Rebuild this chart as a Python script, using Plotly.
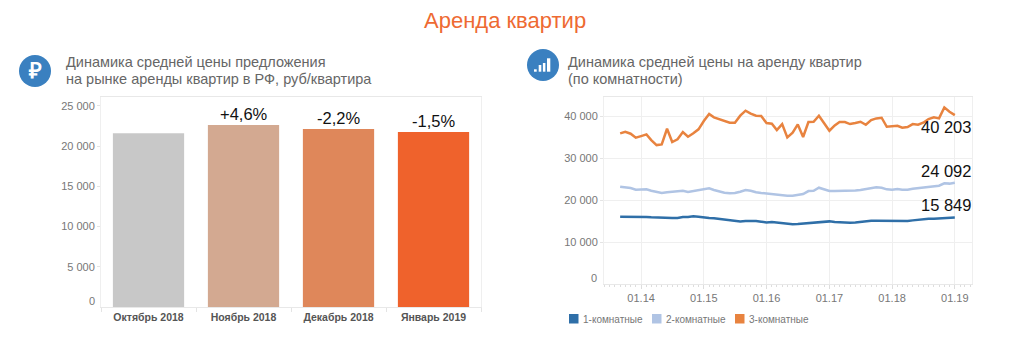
import pandas as pd
import plotly.graph_objects as go

months = ["Октябрь 2018", "Ноябрь 2018", "Декабрь 2018", "Январь 2019"]
avg_price = [21580, 22600, 22100, 21750]
bar_colors = ["#c8c8c8", "#d3a991", "#df875a", "#ef622c"]
change_labels = ["", "+4,6%", "-2,2%", "-1,5%"]

dates = pd.date_range("2013-09-01", "2019-01-01", freq="MS")
room1 = [16030, 16030, 16110, 15950, 15950, 15950, 15870, 15790, 15710, 15710,
         15710, 15710, 15950, 15950, 16110, 16030, 15790, 15710, 15630, 15470,
         15230, 15070, 14990, 14910, 14990, 15070, 14990, 14830, 14670, 14750,
         14590, 14430, 14260, 14200, 14260, 14340, 14500, 14590, 14750, 14830,
         14910, 14750, 14670, 14590, 14590, 14670, 14830, 14990, 15070, 15070,
         15070, 15070, 14990, 14910, 14990, 14990, 15150, 15310, 15390, 15550,
         15550, 15630, 15790, 15790, 15849]
room2 = [23170, 23020, 22850, 22450, 22450, 22540, 22210, 21900, 21660, 21830,
         21900, 22070, 22210, 21900, 22130, 22370, 22690, 22770, 22370, 21980,
         21740, 21580, 21660, 21980, 22370, 22210, 21830, 21660, 21500, 21420,
         21260, 21180, 21010, 21010, 21260, 21420, 22130, 22210, 22930, 22530,
         22130, 22130, 22130, 22210, 22210, 22290, 22370, 22610, 22930, 23020,
         22930, 22530, 22450, 22610, 22450, 22450, 22690, 22850, 22930, 23250,
         23410, 23410, 23970, 23900, 24092]
room3 = [35870, 36250, 35780, 34830, 35220, 35620, 34270, 33080, 33240, 36960,
         33800, 34440, 36180, 35060, 35870, 36820, 38790, 40460, 39670, 39270,
         38790, 38390, 38390, 40070, 41260, 40560, 40070, 39980, 38320, 38160,
         36650, 38080, 34910, 36010, 38000, 34990, 38560, 38630, 40070, 38240,
         36490, 37770, 38560, 38560, 38080, 38320, 38630, 37910, 39030, 39430,
         39590, 37440, 37520, 37680, 37200, 37370, 38080, 37910, 38390, 39270,
         39670, 39430, 42050, 41020, 40203]
series_names = ["1-комнатные", "2-комнатные", "3-комнатные"]
series_colors = ["#2f6fa8", "#b0c4e4", "#e8833f"]
left_ticks = [5000, 10000, 15000, 20000, 25000]
left_ticktext = ["5 000", "10 000", "15 000", "20 000", "25 000"]
right_ticks = [10000, 20000, 30000, 40000]
right_ticktext = ["10 000", "20 000", "30 000", "40 000"]
year_ticks = ["2014-01-01", "2015-01-01", "2016-01-01", "2017-01-01", "2018-01-01", "2019-01-01"]
year_labels = ["01.14", "01.15", "01.16", "01.17", "01.18", "01.19"]

FONT = "Liberation Sans, Arial, sans-serif"
W, H = 1024, 364
FRAME = "#efefef"


def px(x):
    return x / W


def py(y):
    return 1 - y / H


fig = go.Figure()
fig.add_trace(go.Bar(
    x=months, y=avg_price, width=0.75, marker=dict(color=bar_colors, line_width=0),
    xaxis="x", yaxis="y", showlegend=False, hoverinfo="x+y"))
for name, color, values in zip(series_names, series_colors, [room1, room2, room3]):
    fig.add_trace(go.Scatter(
        x=dates, y=values, mode="lines", name=name,
        line=dict(color=color, width=2.5), xaxis="x2", yaxis="y2", showlegend=False))

notes = [
    dict(text="Аренда квартир", x=px(505), y=py(20), size=22, color="#ee6a32", xa="center"),
    dict(text="Динамика средней цены предложения", x=px(64), y=py(62), size=14.5, color="#666666", xa="left"),
    dict(text="на рынке аренды квартир в РФ, руб/квартира", x=px(64), y=py(79), size=14.5, color="#666666", xa="left"),
    dict(text="Динамика средней цены на аренду квартир", x=px(566), y=py(62), size=14.5, color="#666666", xa="left"),
    dict(text="(по комнатности)", x=px(566), y=py(79), size=14.5, color="#666666", xa="left"),
    dict(text="0", x=px(97), y=py(301), size=11, color="#777777", xa="right"),
    dict(text="0", x=px(599), y=py(278), size=11, color="#777777", xa="right"),
    dict(text="40 203", x=px(973), y=py(127), size=16.5, color="#111111", xa="right"),
    dict(text="24 092", x=px(973), y=py(171), size=16.5, color="#111111", xa="right"),
    dict(text="15 849", x=px(973), y=py(205), size=16.5, color="#111111", xa="right"),
    dict(text="<b>₽</b>", x=px(35), y=py(71), size=22, color="#ffffff", xa="center"),
]
annotations = [dict(text=n["text"], x=n["x"], y=n["y"], xref="paper", yref="paper",
                    xanchor=n["xa"], yanchor="middle", showarrow=False,
                    font=dict(family=FONT, size=n["size"], color=n["color"])) for n in notes]

for month, value, label in zip(months, avg_price, change_labels):
    if label:
        annotations.append(dict(text=label, x=month, y=value, xref="x", yref="y",
                                xanchor="center", yanchor="bottom", showarrow=False,
                                font=dict(family=FONT, size=16.5, color="#111111")))

shapes = [
    dict(type="circle", xref="paper", yref="paper", x0=px(19), x1=px(51), y0=py(87), y1=py(55),
         fillcolor="#3a80c0", line_width=0),
    dict(type="circle", xref="paper", yref="paper", x0=px(527), x1=px(559), y0=py(81), y1=py(49),
         fillcolor="#3a80c0", line_width=0),
]
for x0, x1, top in [(534, 536.7, 69.3), (538.7, 541.3, 65), (542.9, 545.4, 63), (547, 550.3, 58.3)]:
    shapes.append(dict(type="rect", xref="paper", yref="paper", x0=px(x0), x1=px(x1),
                       y0=py(71.7), y1=py(top), fillcolor="#ffffff", line_width=0))

for left, name, color in zip([569, 652, 735], series_names, series_colors):
    shapes.append(dict(type="rect", xref="paper", yref="paper", x0=px(left), x1=px(left + 9.5),
                       y0=py(323.5), y1=py(314), fillcolor=color, line_width=0))
    annotations.append(dict(text=name, x=px(left + 12), y=py(319), xref="paper", yref="paper",
                            xanchor="left", yanchor="middle", showarrow=False,
                            font=dict(family=FONT, size=10, color="#777777")))

fig.update_layout(
    width=W, height=H, autosize=False, margin=dict(l=0, r=0, t=0, b=0),
    paper_bgcolor="#ffffff", plot_bgcolor="#ffffff", font=dict(family=FONT),
    annotations=annotations, shapes=shapes, bargap=0.25,
    xaxis=dict(domain=[px(101), px(481)], anchor="y", type="category", tickson="boundaries",
               ticks="outside", ticklen=4, tickcolor="#e4e4e4", showgrid=False,
               showline=True, linecolor="#e8e8e8", mirror=True,
               tickfont=dict(family=FONT, size=10.5, color="#555555", weight="bold")),
    yaxis=dict(domain=[py(307), py(97)], anchor="x", range=[0, 26087], tickmode="array",
               tickvals=left_ticks, ticktext=left_ticktext, ticks="outside", ticklen=3,
               tickcolor="#e4e4e4", showgrid=False, zeroline=False,
               showline=True, linecolor=FRAME, mirror=True,
               tickfont=dict(family=FONT, size=11, color="#777777")),
    xaxis2=dict(domain=[px(604), px(972)], anchor="y2", type="date",
                range=["2013-05-30", "2019-04-11"], tickmode="array",
                tickvals=year_ticks, ticktext=year_labels, ticks="outside", ticklen=4,
                tickcolor="#dddddd", showgrid=True, gridcolor=FRAME, gridwidth=1,
                showline=True, linecolor="#e8e8e8", mirror=True,
                minor=dict(dtick="M1", ticks="outside", ticklen=2, tickcolor="#dddddd", showgrid=False),
                tickfont=dict(family=FONT, size=11, color="#777777")),
    yaxis2=dict(domain=[py(284), py(97)], anchor="x2", range=[0, 44524], tickmode="array",
                tickvals=right_ticks, ticktext=right_ticktext, ticks="outside", ticklen=3,
                tickcolor="#e4e4e4", showgrid=True, gridcolor=FRAME, gridwidth=1, zeroline=False,
                showline=True, linecolor=FRAME, mirror=True,
                tickfont=dict(family=FONT, size=11, color="#777777")),
)

fig.write_html("out.html", config={"displayModeBar": False},
               post_script="document.body.style.margin='0';document.body.style.overflow='hidden';")
